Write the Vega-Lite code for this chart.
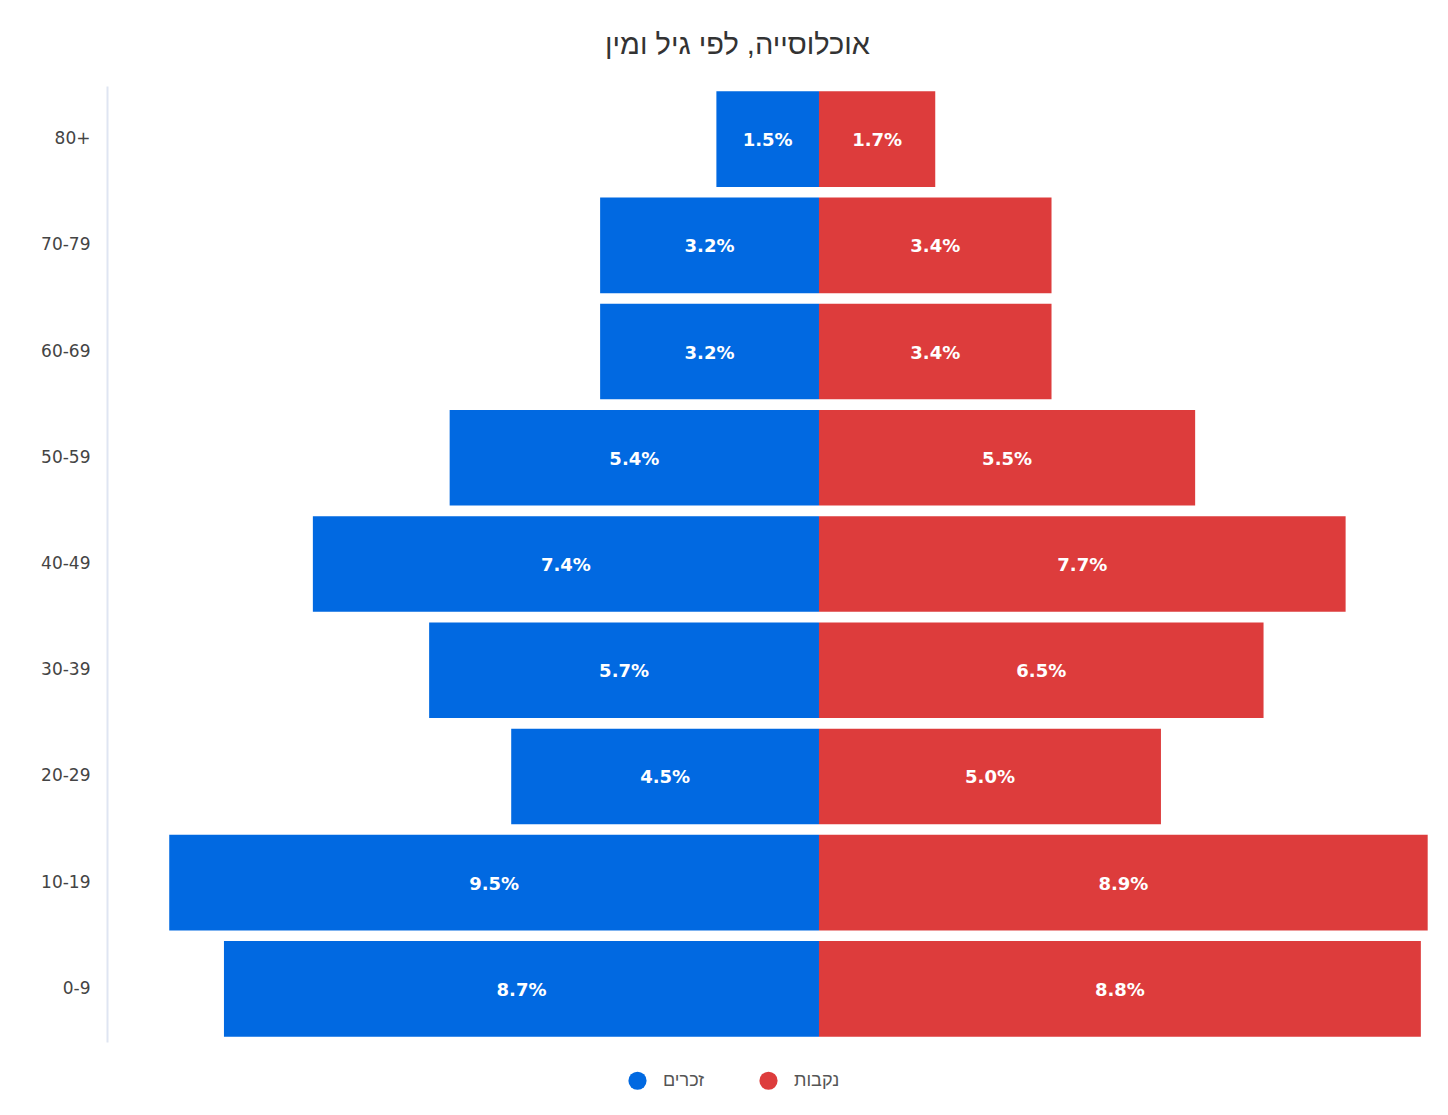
{
  "$schema": "https://vega.github.io/schema/vega-lite/v6.json",
  "autosize": "none",
  "width": 1333,
  "height": 956,
  "padding": {"left": 107, "top": 86, "right": 8, "bottom": 73},
  "background": "white",
  "data": {
    "values": [
      {"age": "80+", "sex": "זכרים", "pct": 0.015},
      {"age": "70-79", "sex": "זכרים", "pct": 0.032},
      {"age": "60-69", "sex": "זכרים", "pct": 0.032},
      {"age": "50-59", "sex": "זכרים", "pct": 0.054},
      {"age": "40-49", "sex": "זכרים", "pct": 0.074},
      {"age": "30-39", "sex": "זכרים", "pct": 0.057},
      {"age": "20-29", "sex": "זכרים", "pct": 0.045},
      {"age": "10-19", "sex": "זכרים", "pct": 0.095},
      {"age": "0-9", "sex": "זכרים", "pct": 0.087},
      {"age": "80+", "sex": "נקבות", "pct": 0.017},
      {"age": "70-79", "sex": "נקבות", "pct": 0.034},
      {"age": "60-69", "sex": "נקבות", "pct": 0.034},
      {"age": "50-59", "sex": "נקבות", "pct": 0.055},
      {"age": "40-49", "sex": "נקבות", "pct": 0.077},
      {"age": "30-39", "sex": "נקבות", "pct": 0.065},
      {"age": "20-29", "sex": "נקבות", "pct": 0.050},
      {"age": "10-19", "sex": "נקבות", "pct": 0.089},
      {"age": "0-9", "sex": "נקבות", "pct": 0.088}
    ]
  },
  "transform": [
    {"calculate": "datum.sex === 'זכרים' ? -datum.pct : datum.pct", "as": "signed"}
  ],
  "title": {
    "text": "אוכלוסייה, לפי גיל ומין",
    "font": "Liberation Sans",
    "fontSize": 29,
    "fontWeight": "normal",
    "color": "#333333",
    "anchor": "middle",
    "offset": 26,
    "dx": -36
  },
  "config": {
    "view": {"stroke": null},
    "font": "DejaVu Sans"
  },
  "encoding": {
    "y": {
      "field": "age", "type": "nominal",
      "sort": ["80+", "70-79", "60-69", "50-59", "40-49", "30-39", "20-29", "10-19", "0-9"],
      "scale": {"paddingInner": 0.1, "paddingOuter": 0.05},
      "axis": {
        "title": null, "ticks": false, "labelPadding": 17,
        "labelFontSize": 17, "labelColor": "#444444", "labelFont": "DejaVu Sans",
        "domainColor": "#dfe5f2", "domainWidth": 2
      }
    }
  },
  "layer": [
    {
      "mark": {"type": "bar"},
      "encoding": {
        "x": {
          "field": "signed", "type": "quantitative",
          "scale": {"domain": [-0.1041, 0.0908], "nice": false, "zero": false},
          "axis": null
        },
        "color": {
          "field": "sex", "type": "nominal",
          "scale": {"domain": ["זכרים", "נקבות"], "range": ["#0169e1", "#dd3c3c"]},
          "legend": {
            "title": null, "orient": "none", "direction": "horizontal",
            "legendX": 521, "legendY": 985,
            "symbolType": "circle", "symbolSize": 330, "symbolStrokeWidth": 0,
            "labelFontSize": 18, "labelColor": "#555555", "labelFont": "Liberation Sans",
            "columnPadding": 54, "labelOffset": 16
          }
        }
      }
    },
    {
      "mark": {"type": "text", "color": "white", "fontWeight": "bold", "fontSize": 18, "font": "DejaVu Sans", "dy": 2},
      "encoding": {
        "x": {"field": "signed", "type": "quantitative", "stack": "zero", "bandPosition": 0.5},
        "detail": {"field": "sex"},
        "text": {"field": "pct", "type": "quantitative", "format": ".1%"}
      }
    }
  ]
}
